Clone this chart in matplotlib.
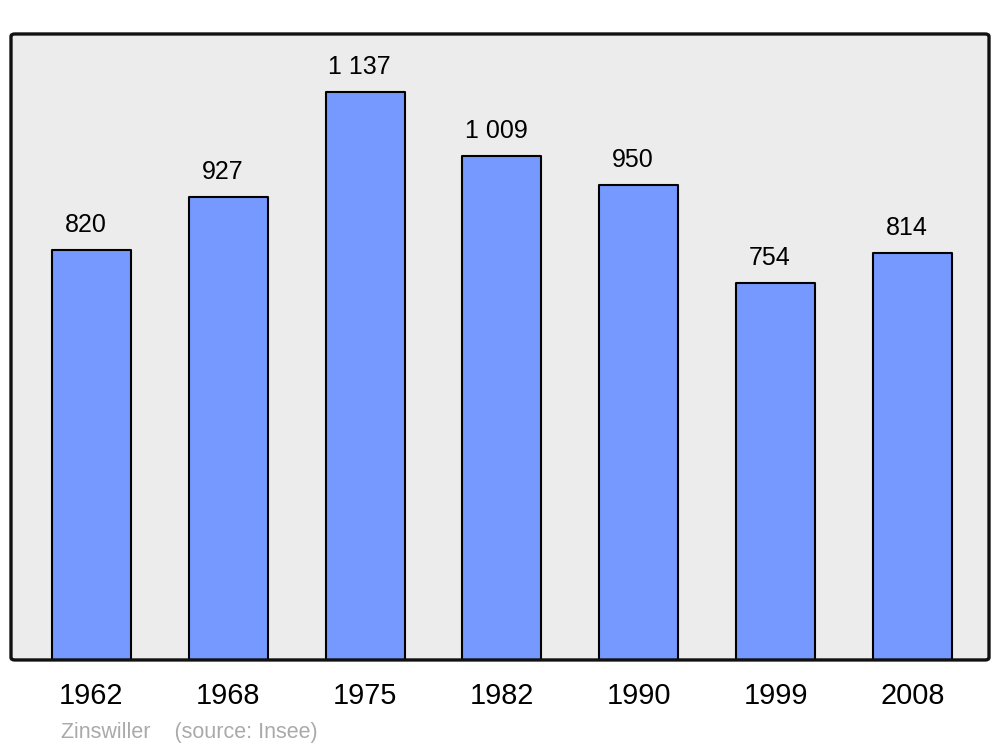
import matplotlib.pyplot as plt
from matplotlib.patches import FancyBboxPatch

plt.rcParams['font.family'] = ['Liberation Sans', 'DejaVu Sans']

# Population data
years = ['1962', '1968', '1975', '1982', '1990', '1999', '2008']
population = [820, 927, 1137, 1009, 950, 754, 814]
labels = ['820', '927', '1 137', '1 009', '950', '754', '814']

fig = plt.figure(figsize=(10, 7.47), dpi=100)
ax = fig.add_axes([0.011, 0.1165, 0.978, 0.838])
ax.set_facecolor('#ececec')

x = list(range(len(years)))
bars = ax.bar(x, population, width=0.578, color='#7599ff',
              edgecolor='black', linewidth=1.5, zorder=2)
for b in bars:
    b.set_joinstyle('round')

for xi, v, lab in zip(x, population, labels):
    ax.annotate(lab, (xi, v), xytext=(-4, 13), textcoords='offset points',
                ha='center', va='baseline', fontsize=18)

ax.set_xlim(-0.588, 6.56)
ax.set_ylim(0, 1253)
ax.set_yticks([])
ax.set_xticks(x)
ax.set_xticklabels(years, fontsize=20.8)
ax.tick_params(axis='x', length=0, pad=16)

# rounded frame instead of plain spines
for s in ax.spines.values():
    s.set_visible(False)
frame = FancyBboxPatch((0, 0), 1, 1, boxstyle='round,pad=0,rounding_size=0.004',
                       transform=ax.transAxes, fill=False, edgecolor='#111111',
                       linewidth=2.4, zorder=3, clip_on=False)
ax.add_patch(frame)

fig.text(0.061, 0.012, 'Zinswiller    (source: Insee)', color='#aaaaaa',
         fontsize=15.5, ha='left', va='baseline')

fig.savefig('out.png', dpi=100)
